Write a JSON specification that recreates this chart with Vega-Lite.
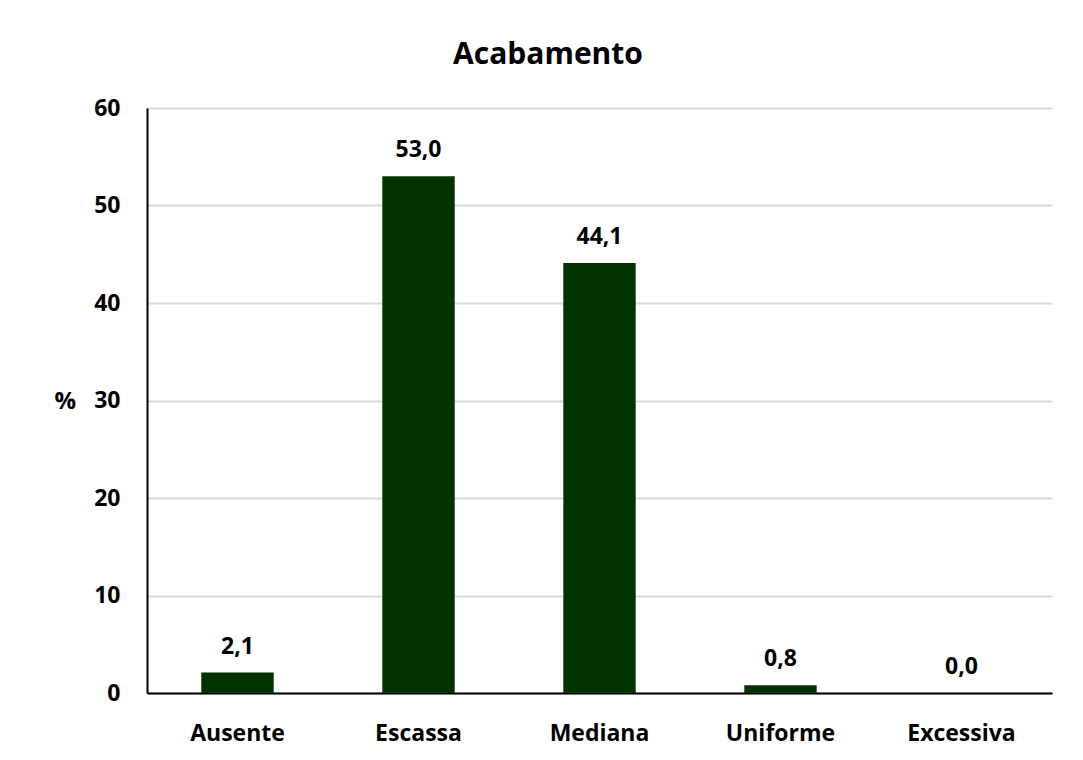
{
  "$schema": "https://vega.github.io/schema/vega-lite/v6.json",
  "autosize": "none",
  "width": 905,
  "height": 585,
  "padding": {"left": 147, "top": 108, "right": 31, "bottom": 67},
  "background": "white",
  "config": {
    "locale": {"number": {"decimal": ",", "thousands": ".", "grouping": [3], "currency": ["", ""]}},
    "view": {"stroke": null},
    "font": "Open Sans"
  },
  "title": {
    "text": "Acabamento",
    "font": "Open Sans",
    "fontSize": 30,
    "fontWeight": "bold",
    "color": "#000000",
    "anchor": "middle",
    "frame": "bounds",
    "dx": -5,
    "offset": 27
  },
  "data": {
    "values": [
      {"categoria": "Ausente", "valor": 2.1},
      {"categoria": "Escassa", "valor": 53.0},
      {"categoria": "Mediana", "valor": 44.1},
      {"categoria": "Uniforme", "valor": 0.8},
      {"categoria": "Excessiva", "valor": 0.0}
    ]
  },
  "encoding": {
    "x": {
      "field": "categoria",
      "type": "nominal",
      "sort": null,
      "scale": {"paddingInner": 0.6, "paddingOuter": 0.3},
      "axis": {
        "title": null,
        "labelAngle": 0,
        "labelFont": "Open Sans",
        "labelFontSize": 23,
        "labelFontWeight": "bold",
        "labelColor": "#000000",
        "labelPadding": 29,
        "ticks": false,
        "domainColor": "#000000",
        "domainWidth": 2
      }
    },
    "y": {
      "field": "valor",
      "type": "quantitative",
      "scale": {"domain": [0, 60]},
      "axis": {
        "values": [0, 10, 20, 30, 40, 50, 60],
        "title": "%",
        "titleAngle": 0,
        "titleFont": "Open Sans",
        "titleFontSize": 24,
        "titleFontWeight": "bold",
        "titleColor": "#000000",
        "titleAlign": "left",
        "titleBaseline": "middle",
        "titleX": -93,
        "titleY": 293,
        "labelFont": "Open Sans",
        "labelFontSize": 23,
        "labelFontWeight": "bold",
        "labelColor": "#000000",
        "labelPadding": 27,
        "ticks": false,
        "domainColor": "#000000",
        "domainWidth": 2,
        "gridColor": "#d9d9d9",
        "gridWidth": 2
      }
    }
  },
  "layer": [
    {
      "mark": {"type": "bar", "color": "#003300"}
    },
    {
      "mark": {"type": "text", "baseline": "alphabetic", "dy": -19, "font": "Open Sans", "fontSize": 23, "fontWeight": "bold", "color": "#000000"},
      "encoding": {
        "text": {"field": "valor", "type": "quantitative", "format": ".1f"}
      }
    }
  ]
}
